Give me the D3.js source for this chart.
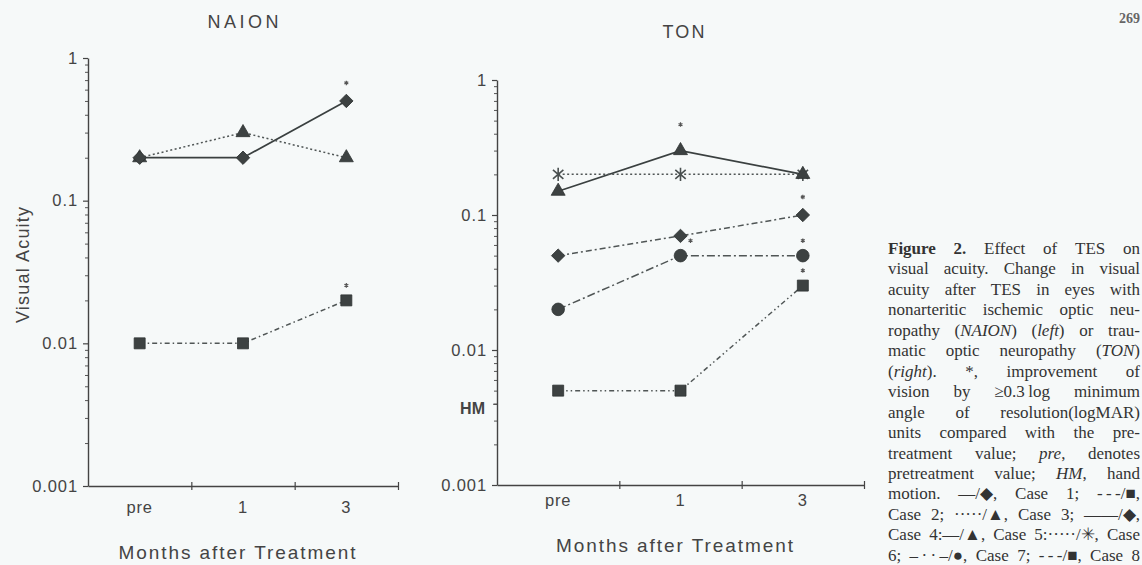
<!DOCTYPE html>
<html>
<head>
<meta charset="utf-8">
<script src="https://cdn.jsdelivr.net/npm/d3@7"></script>
<style>
  body { margin: 0; background: #f6f9f9; }
  svg { display: block; }
</style>
</head>
<body>
<script>
// ---- data ----
var months = ["pre", "1", "3"];

var naionCases = ["Case 1", "Case 2", "Case 3"];
var naionValues = [
  [0.2, 0.2, 0.5],
  [0.01, 0.01, 0.02],
  [0.2, 0.3, 0.2]
];
// improvement markers (*): [case, month]
var naionStars = [["Case 1", "3"], ["Case 2", "3"]];

var tonCases = ["Case 4", "Case 5", "Case 6", "Case 7", "Case 8"];
var tonValues = [
  [0.05, 0.07, 0.1],
  [0.15, 0.3, 0.2],
  [0.2, 0.2, 0.2],
  [0.02, 0.05, 0.05],
  [0.005, 0.005, 0.03]
];
var tonStars = [["Case 5", "1"], ["Case 7", "1"], ["Case 4", "3"], ["Case 7", "3"], ["Case 8", "3"]];

var yTickValues = [1, 0.1, 0.01, 0.001];
var yTickLabels = ["1", "0.1", "0.01", "0.001"];
var hmValue = 0.004;   // "hand motion" mark on the TON axis

var captionLines = [
  "**Figure** **2.** Effect of TES on",
  "visual acuity. Change in visual",
  "acuity after TES in eyes with",
  "nonarteritic ischemic optic neu-",
  "ropathy (_NAION_) (_left_) or trau-",
  "matic optic neuropathy (_TON_)",
  "(_right_). *, improvement of",
  "vision by \u22650.3\u2009log minimum",
  "angle of resolution(logMAR)",
  "units compared with the pre-",
  "treatment value; _pre_, denotes",
  "pretreatment value; _HM_, hand",
  "motion. \u2014/\u25C6, Case 1; -\u2009-\u2009-/\u25A0,",
  "Case 2; \u00B7\u00B7\u00B7\u00B7\u00B7/\u25B2, Case 3; \u2014\u2014/\u25C6,",
  "Case 4:\u2014/\u25B2, Case 5:\u00B7\u00B7\u00B7\u00B7\u00B7/\u2733, Case",
  "6; \u2013\u2009\u00B7\u2009\u00B7\u2009\u2013/\u25CF, Case 7; -\u2009-\u2009-/\u25A0, Case 8"
];

// ---- styles for each case: marker + line dash ----
var caseStyle = {
  "Case 1": { mark: "diamond",  dash: null },
  "Case 2": { mark: "square",   dash: "5,3,1.5,3" },
  "Case 3": { mark: "triangle", dash: "2,2.5" },
  "Case 4": { mark: "diamond",  dash: "6,3,2,3" },
  "Case 5": { mark: "triangle", dash: null },
  "Case 6": { mark: "asterisk", dash: "2,2.5" },
  "Case 7": { mark: "circle",   dash: "8,3,2,3" },
  "Case 8": { mark: "square",   dash: "5,3,1.5,3,1.5,3" }
};

var W = 1142, H = 565;
var sansFont = "'Liberation Sans', Arial, sans-serif";
var ink = "#3d4242";

var svg = d3.select("body").append("svg")
    .attr("width", W)
    .attr("height", H);

svg.append("rect").attr("width", W).attr("height", H).attr("fill", "#f6f9f9");

// custom asterisk: vertical bar + X
var symbolStar = {
  draw: function(ctx, size) {
    var r = Math.sqrt(size) / 2;
    ctx.moveTo(0, -r); ctx.lineTo(0, r);
    ctx.moveTo(-r * 0.8, -r * 0.7); ctx.lineTo(r * 0.8, r * 0.7);
    ctx.moveTo(-r * 0.8, r * 0.7); ctx.lineTo(r * 0.8, -r * 0.7);
  }
};

function markPath(kind) {
  if (kind == "diamond") return d3.symbol(d3.symbolSquare, 90)();
  if (kind == "square") return d3.symbol(d3.symbolSquare, 121)();
  if (kind == "triangle") return d3.symbol(d3.symbolTriangle, 85)();
  if (kind == "circle") return d3.symbol(d3.symbolCircle, 125)();
  return d3.symbol(symbolStar, 170)();
}

// ---- draw one panel ----
function drawPanel(p) {
  var g = svg.append("g");

  var x = d3.scaleBand().domain(months).range([p.x0, p.x1]);
  var y = d3.scaleLog().domain([0.001, 1]).range([p.yBot, p.yTop]);

  // minor y ticks (2..9 in each decade)
  var minors = [];
  [0.001, 0.01, 0.1].forEach(function(d) {
    for (var k = 2; k <= 9; k++) minors.push(d * k);
  });
  g.append("g")
    .attr("transform", "translate(" + p.x0 + ",0)")
    .call(d3.axisLeft(y).tickValues(minors).tickSize(3).tickSizeOuter(0).tickFormat(""))
    .call(function(a) { a.select(".domain").remove(); })
    .selectAll("line").attr("stroke", "#555");

  // major y ticks
  var yAx = g.append("g")
    .attr("transform", "translate(" + p.x0 + ",0)")
    .call(d3.axisLeft(y).tickValues(yTickValues).tickSize(5).tickSizeOuter(0).tickPadding(5)
      .tickFormat(function(d, i) { return yTickLabels[i]; }));
  yAx.select(".domain").attr("stroke", "#444").attr("stroke-width", 1.4);
  yAx.selectAll("line").attr("stroke", "#444").attr("stroke-width", 1.2);
  yAx.selectAll("text")
    .attr("font-family", sansFont).attr("font-size", 16.5)
    .attr("letter-spacing", 0.9).attr("fill", "#444");

  if (p.hm) {
    var hmAx = g.append("g")
      .attr("transform", "translate(" + p.x0 + ",0)")
      .call(d3.axisLeft(y).tickValues([hmValue]).tickSize(4).tickPadding(8).tickFormat(function() { return "HM"; }));
    hmAx.select(".domain").remove();
    hmAx.selectAll("line").attr("stroke", "#444");
    hmAx.selectAll("text")
      .attr("font-family", sansFont).attr("font-size", 16).attr("font-weight", "bold")
      .attr("fill", "#444").attr("dy", "0.6em");
  }

  // x axis: ticks at band boundaries, labels at band centres
  var xb = d3.scaleLinear().domain([0, months.length]).range([p.x0, p.x1]);
  var xAx = g.append("g")
    .attr("transform", "translate(0," + p.yBot + ")")
    .call(d3.axisBottom(xb).tickValues([1, 2, 3]).tickSize(4).tickSizeOuter(0).tickFormat(""));
  xAx.select(".domain").attr("stroke", "#444").attr("stroke-width", 1.4);
  xAx.selectAll("line").attr("y1", -4).attr("stroke", "#444").attr("stroke-width", 1.2);

  var xLab = g.append("g")
    .attr("transform", "translate(0," + p.yBot + ")")
    .call(d3.axisBottom(x).tickSize(0).tickPadding(p.xPad));
  xLab.select(".domain").remove();
  xLab.selectAll("text")
    .attr("font-family", sansFont).attr("font-size", 16.5)
    .attr("letter-spacing", 0.9).attr("fill", "#444");

  // titles
  g.append("text")
    .attr("x", (p.x0 + p.x1) / 2 + p.titleDx).attr("y", p.titleY)
    .attr("text-anchor", "middle")
    .attr("font-family", sansFont).attr("font-size", 18).attr("fill", "#444")
    .attr("textLength", p.titleLen).attr("lengthAdjust", "spacing")
    .text(p.title);

  g.append("text")
    .attr("x", (p.x0 + p.x1) / 2 - 6).attr("y", p.xLabelY)
    .attr("text-anchor", "middle")
    .attr("font-family", sansFont).attr("font-size", 19).attr("fill", "#444")
    .attr("textLength", 237).attr("lengthAdjust", "spacing")
    .text("Months after Treatment");

  // series
  var line = d3.line()
    .x(function(d, i) { return x(months[i]) + x.bandwidth() / 2; })
    .y(function(d) { return y(d); });

  p.cases.forEach(function(c, ci) {
    var st = caseStyle[c];
    g.append("path")
      .datum(p.values[ci])
      .attr("d", line)
      .attr("fill", "none")
      .attr("stroke", st.dash ? "#505656" : "#3a4040")
      .attr("stroke-width", st.dash ? 1.5 : 1.7)
      .attr("stroke-dasharray", st.dash);
  });

  // markers, drawn last-case-first so earlier cases sit on top
  p.cases.slice().reverse().forEach(function(c) {
    var ci = p.cases.indexOf(c);
    var st = caseStyle[c];
    g.selectAll(null)
      .data(p.values[ci])
      .enter()
      .append("path")
      .attr("d", markPath(st.mark))
      .attr("transform", function(d, i) {
        var rot = st.mark == "diamond" ? " rotate(45)" : "";
        return "translate(" + (x(months[i]) + x.bandwidth() / 2) + "," + y(d) + ")" + rot;
      })
      .attr("fill", st.mark == "asterisk" ? "none" : ink)
      .attr("stroke", st.mark == "asterisk" ? "#4a5050" : "#2e3333")
      .attr("stroke-width", st.mark == "asterisk" ? 1.6 : 0.8);
  });

  // improvement stars (small asterisks above the point)
  var starPath = d3.symbol(d3.symbolAsterisk, 14)();
  p.stars.forEach(function(s) {
    var ci = p.cases.indexOf(s[0]);
    var mi = months.indexOf(s[1]);
    var v = p.values[ci][mi];
    var mk = caseStyle[s[0]].mark;
    var dy = mk == "triangle" ? -26 : (mk == "diamond" ? -18 : -15);
    var dx = 0;
    // a star that would sit on another case's marker is nudged right
    var clash = p.values.some(function(vals, k) {
      return k != ci && Math.abs(y(vals[mi]) - (y(v) + dy)) < 7;
    });
    if (clash) { dx = 10; dy = -15; }
    g.append("path")
      .attr("d", starPath)
      .attr("transform", "translate(" + (x(months[mi]) + x.bandwidth() / 2 + dx) + "," + (y(v) + dy) + ")")
      .attr("fill", "none")
      .attr("stroke", "#555")
      .attr("stroke-width", 1.2);
  });
}

drawPanel({
  title: "NAION", titleY: 28, titleDx: 0, titleLen: 71,
  x0: 88, x1: 398, yTop: 58, yBot: 486, xPad: 15, xLabelY: 559,
  cases: naionCases, values: naionValues, stars: naionStars, hm: false
});

drawPanel({
  title: "TON", titleY: 38, titleDx: 3, titleLen: 42,
  x0: 497, x1: 864, yTop: 80, yBot: 485, xPad: 9, xLabelY: 552,
  cases: tonCases, values: tonValues, stars: tonStars, hm: true
});

// y-axis title (left panel only)
svg.append("text")
  .attr("transform", "translate(29,265) rotate(-90)")
  .attr("text-anchor", "middle")
  .attr("font-family", sansFont).attr("font-size", 18).attr("fill", "#444")
  .attr("textLength", 116).attr("lengthAdjust", "spacing")
  .text("Visual Acuity");

// page number
svg.append("text")
  .attr("x", 1140).attr("y", 23)
  .attr("text-anchor", "end")
  .attr("font-family", "'Liberation Serif', serif").attr("font-size", 14)
  .attr("font-weight", "bold").attr("fill", "#666")
  .text("269");

// ---- justified caption ----
var capLeft = 888, capWidth = 252, capTop = 254, capStep = 20.45;
var cap = svg.append("g")
  .attr("font-family", "'Liberation Serif', 'Times New Roman', serif")
  .attr("font-size", 17)
  .attr("fill", "#333");

captionLines.forEach(function(line, i) {
  var words = line.split(" ");
  var nodes = words.map(function(w) {
    var t = cap.append("text").attr("y", capTop + i * capStep);
    w.split(/(\*\*[^*]+\*\*|_[^_]+_)/).forEach(function(part) {
      if (!part) return;
      var ts = t.append("tspan");
      if (part.indexOf("**") == 0) ts.attr("font-weight", "bold").text(part.slice(2, -2));
      else if (part[0] == "_") ts.attr("font-style", "italic").text(part.slice(1, -1));
      else ts.text(part);
    });
    return t;
  });
  var widths = nodes.map(function(n) { return n.node().getComputedTextLength(); });
  var total = d3.sum(widths);
  var gap = (capWidth - total) / (nodes.length - 1);
  // squeeze a line that is too long for the column
  if (gap < 3) {
    var k = (capWidth - 3 * (nodes.length - 1)) / total;
    widths = widths.map(function(w, j) {
      nodes[j].attr("textLength", w * k).attr("lengthAdjust", "spacingAndGlyphs");
      return w * k;
    });
    gap = 3;
  }
  var xpos = capLeft;
  nodes.forEach(function(n, j) {
    n.attr("x", xpos);
    xpos += widths[j] + gap;
  });
});
</script>
</body>
</html>
